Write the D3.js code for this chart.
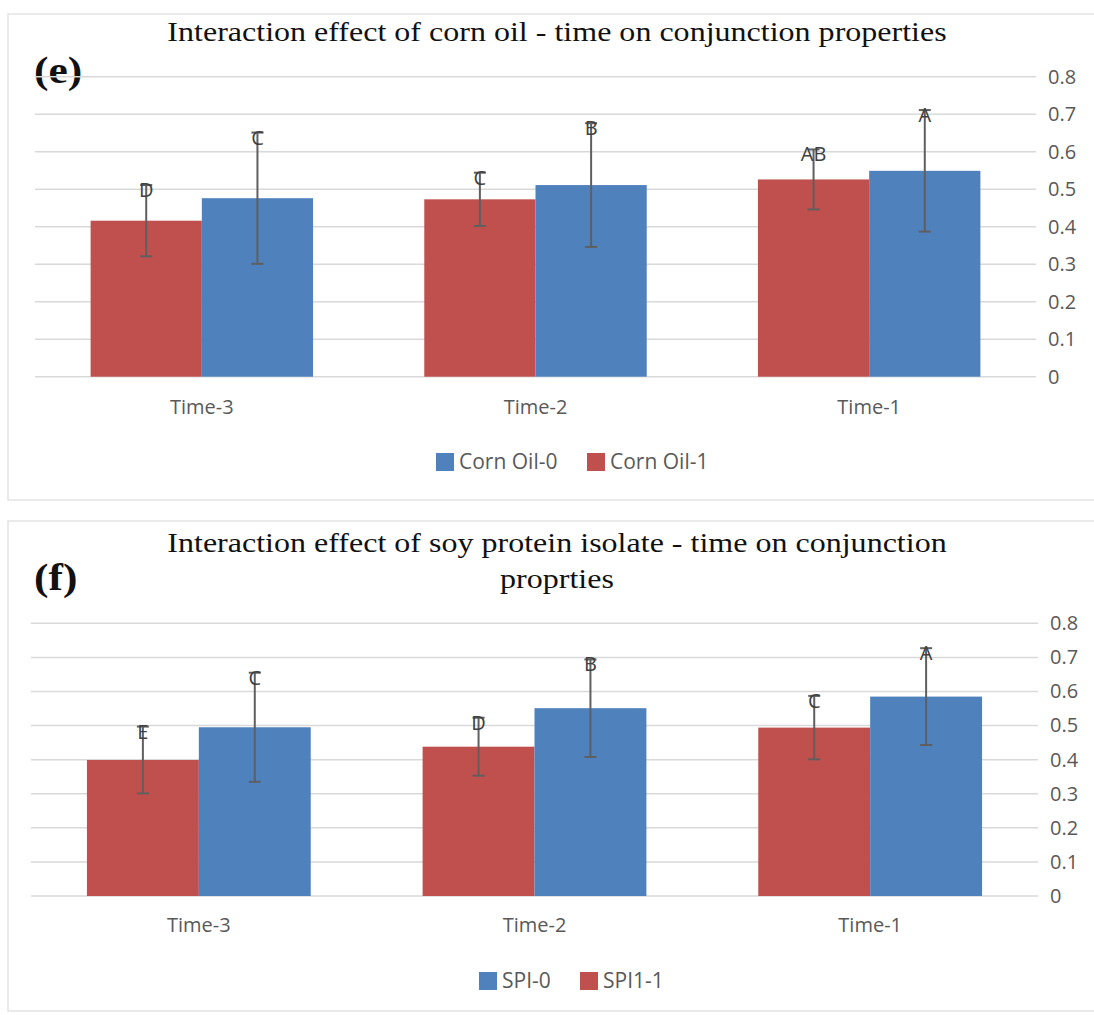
<!DOCTYPE html>
<html>
<head>
<meta charset="utf-8">
<script src="https://cdn.jsdelivr.net/npm/d3@7"></script>
<style>
  html, body { margin: 0; padding: 0; background: #ffffff; }
  svg { display: block; }
</style>
</head>
<body>
<svg id="chart" width="1094" height="1015"></svg>
<script>
// Shared categories and axis ticks
const categories = ["Time-3", "Time-2", "Time-1"];
const yTicks = [0, 0.1, 0.2, 0.3, 0.4, 0.5, 0.6, 0.7, 0.8];

// Panel (e): corn oil
const cornOil1 = [0.416, 0.473, 0.526];
const cornOil1Err = [0.095, 0.071, 0.080];
const cornOil1Letters = ["D", "C", "AB"];
const cornOil0 = [0.476, 0.511, 0.549];
const cornOil0Err = [0.175, 0.165, 0.162];
const cornOil0Letters = ["C", "B", "A"];

// Panel (f): soy protein isolate
const spi1 = [0.399, 0.438, 0.494];
const spi1Err = [0.098, 0.085, 0.093];
const spi1Letters = ["E", "D", "C"];
const spi0 = [0.495, 0.551, 0.585];
const spi0Err = [0.160, 0.143, 0.142];
const spi0Letters = ["C", "B", "A"];

const RED = "#c0504d";
const BLUE = "#4f81bd";
const GRID = "#d9d9d9";
const TEXT = "#595959";
const ERR = "#5f5f5f";
const SANS = "'Open Sans', sans-serif";
const SERIF = "'Liberation Serif', 'Times New Roman', serif";
const SERIF_STRETCH = 1.144; // headings are set slightly wide

const svg = d3.select("#chart");

function drawPanel(p) {
  const g = svg.append("g");

  // chart frame
  g.append("rect")
    .attr("x", p.frame[0]).attr("y", p.frame[1])
    .attr("width", p.frame[2]).attr("height", p.frame[3])
    .attr("fill", "none").attr("stroke", "#e3e3e3").attr("stroke-width", 1.5);

  // title lines
  g.selectAll("text.title").data(p.title).join("text")
    .attr("class", "title")
    .attr("transform", (d, i) => `translate(557,${p.titleY + i * 36}) scale(${SERIF_STRETCH},1)`)
    .attr("text-anchor", "middle")
    .attr("font-family", SERIF).attr("font-size", 28)
    .attr("fill", "#111").text(d => d);

  // panel tag
  g.append("text")
    .attr("transform", `translate(34,${p.tagY}) scale(${SERIF_STRETCH},1)`)
    .attr("font-family", SERIF).attr("font-size", 38).attr("font-weight", "bold")
    .attr("fill", "#111").text(p.tag);

  const x0 = d3.scaleBand().domain(categories).range(p.xRange).padding(0);
  const x1 = d3.scaleBand().domain(["s1", "s0"]).range([0, x0.bandwidth()])
    .paddingInner(0).paddingOuter(0.5);
  const y = d3.scaleLinear().domain([0, 0.8]).range(p.yRange);

  // horizontal gridlines
  g.selectAll("line.grid").data(yTicks).join("line")
    .attr("class", "grid")
    .attr("x1", p.xRange[0]).attr("x2", p.xRange[1])
    .attr("y1", d => y(d)).attr("y2", d => y(d))
    .attr("stroke", GRID).attr("stroke-width", 1.5);

  // right-hand value axis
  const yAxis = d3.axisRight(y).tickValues(yTicks).tickSize(0).tickPadding(12)
    .tickFormat(d => d === 0 ? "0" : d3.format(".1f")(d));
  const ax = g.append("g").attr("transform", `translate(${p.xRange[1]},0)`).call(yAxis);
  ax.select(".domain").remove();
  ax.selectAll("text").attr("font-family", SANS).attr("font-size", 20).attr("fill", TEXT);

  // category axis labels
  const xAxis = d3.axisBottom(x0).tickSize(0).tickPadding(0);
  const bx = g.append("g").attr("transform", `translate(0,${p.catY})`).call(xAxis);
  bx.select(".domain").remove();
  bx.selectAll("text").attr("font-family", SANS).attr("font-size", 20).attr("fill", TEXT)
    .attr("dy", "0.35em");

  const series = [
    { key: "s1", vals: p.s1, err: p.s1Err, letters: p.s1Letters, color: RED },
    { key: "s0", vals: p.s0, err: p.s0Err, letters: p.s0Letters, color: BLUE }
  ];

  series.forEach(s => {
    const rows = categories.map((c, i) => ({ c, v: s.vals[i], e: s.err[i], l: s.letters[i] }));
    const sg = g.append("g");
    sg.selectAll("rect").data(rows).join("rect")
      .attr("x", d => x0(d.c) + x1(s.key))
      .attr("y", d => y(d.v))
      .attr("width", x1.bandwidth())
      .attr("height", d => y(0) - y(d.v))
      .attr("fill", s.color);

    const cx = d => x0(d.c) + x1(s.key) + x1.bandwidth() / 2;
    // error bars
    sg.selectAll("line.stem").data(rows).join("line")
      .attr("class", "stem")
      .attr("x1", cx).attr("x2", cx)
      .attr("y1", d => y(d.v + d.e)).attr("y2", d => y(d.v - d.e))
      .attr("stroke", ERR).attr("stroke-width", 2);
    ["top", "bot"].forEach(k => {
      sg.selectAll("line.cap" + k).data(rows).join("line")
        .attr("class", "cap" + k)
        .attr("x1", d => cx(d) - 6).attr("x2", d => cx(d) + 6)
        .attr("y1", d => y(k === "top" ? d.v + d.e : d.v - d.e))
        .attr("y2", d => y(k === "top" ? d.v + d.e : d.v - d.e))
        .attr("stroke", ERR).attr("stroke-width", 2);
    });
    // significance letters
    sg.selectAll("text.letter").data(rows).join("text")
      .attr("class", "letter")
      .attr("x", cx)
      .attr("y", d => y(d.v + d.e) + 5)
      .attr("dy", "0.35em")
      .attr("text-anchor", "middle")
      .attr("font-family", SANS).attr("font-size", 20).attr("fill", "#404040")
      .text(d => d.l);
  });

  // legend
  const lg = g.append("g");
  p.legend.forEach(item => {
    lg.append("rect").attr("x", item.x).attr("y", p.legendY - 9)
      .attr("width", 18).attr("height", 18).attr("fill", item.color);
    lg.append("text").attr("x", item.x + 23).attr("y", p.legendY)
      .attr("dy", "0.35em")
      .attr("font-family", SANS).attr("font-size", 21).attr("fill", TEXT)
      .text(item.label);
  });
}

drawPanel({
  frame: [8, 14, 1100, 486],
  title: ["Interaction effect of corn oil - time on conjunction properties"],
  titleY: 41,
  tag: "(e)", tagY: 83,
  xRange: [35, 1036],
  yRange: [376.7, 76.7],
  catY: 407,
  s1: cornOil1, s1Err: cornOil1Err, s1Letters: cornOil1Letters,
  s0: cornOil0, s0Err: cornOil0Err, s0Letters: cornOil0Letters,
  legendY: 462,
  legend: [
    { x: 436, color: BLUE, label: "Corn Oil-0" },
    { x: 587, color: RED, label: "Corn Oil-1" }
  ]
});

drawPanel({
  frame: [8, 521, 1100, 490],
  title: ["Interaction effect of soy protein isolate - time on conjunction", "proprties"],
  titleY: 552,
  tag: "(f)", tagY: 590,
  xRange: [31, 1038],
  yRange: [896, 623.3],
  catY: 925,
  s1: spi1, s1Err: spi1Err, s1Letters: spi1Letters,
  s0: spi0, s0Err: spi0Err, s0Letters: spi0Letters,
  legendY: 981,
  legend: [
    { x: 479, color: BLUE, label: "SPI-0" },
    { x: 580, color: RED, label: "SPI1-1" }
  ]
});
</script>
</body>
</html>
